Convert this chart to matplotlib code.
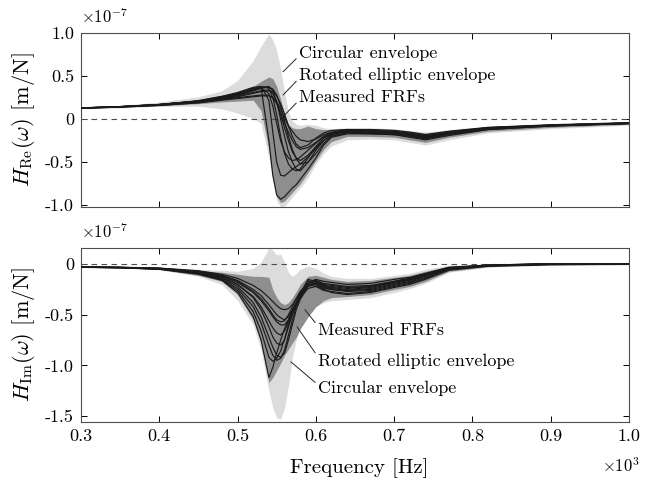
import matplotlib
matplotlib.use('Agg')
import matplotlib.pyplot as plt

plt.rcParams['font.family'] = 'cmr10'
plt.rcParams['mathtext.fontset'] = 'cm'
plt.rcParams['axes.unicode_minus'] = False
plt.rcParams['axes.formatter.use_mathtext'] = True

# frequency grid (x 10^3 Hz)
freq = [0.30, 0.35, 0.40, 0.45, 0.48, 0.50, 0.52, 0.53, 0.54, 0.545, 0.55, 0.555, 0.56, 0.565,
        0.57, 0.575, 0.58, 0.59, 0.60, 0.61, 0.62, 0.64, 0.67, 0.70, 0.72, 0.74, 0.77, 0.82, 0.90, 1.00]

# ---- real part (x 1e-7 m/N) ----
re_circ_hi = [0.14, 0.16, 0.20, 0.26, 0.33, 0.45, 0.68, 0.85, 0.99, 0.92, 0.80, 0.58, 0.32, 0.08,
              -0.02, -0.06, -0.07, -0.06, -0.07, -0.10, -0.11, -0.10, -0.10, -0.11, -0.13, -0.15, -0.12, -0.08, -0.05, -0.03]
re_circ_lo = [0.12, 0.13, 0.15, 0.15, 0.12, 0.07, 0.01, -0.05, -0.45, -0.72, -0.95, -1.02, -1.01, -0.96,
              -0.90, -0.85, -0.80, -0.68, -0.52, -0.40, -0.31, -0.24, -0.23, -0.24, -0.27, -0.30, -0.24, -0.16, -0.11, -0.07]
re_ell_hi = [0.135, 0.15, 0.18, 0.23, 0.28, 0.31, 0.38, 0.44, 0.49, 0.47, 0.38, 0.23, 0.06, -0.06,
             -0.10, -0.11, -0.11, -0.08, -0.11, -0.12, -0.12, -0.11, -0.11, -0.12, -0.14, -0.16, -0.13, -0.085, -0.055, -0.035]
re_ell_lo = [0.125, 0.14, 0.155, 0.18, 0.20, 0.21, 0.22, 0.10, -0.35, -0.68, -0.90, -0.97, -0.95, -0.90,
             -0.85, -0.80, -0.75, -0.62, -0.48, -0.35, -0.26, -0.20, -0.20, -0.21, -0.24, -0.27, -0.21, -0.14, -0.095, -0.06]
re_frf_1 = [0.13, 0.145, 0.17, 0.21, 0.26, 0.30, 0.36, 0.37, -0.25, -0.65, -0.88, -0.93, -0.90, -0.85,
            -0.80, -0.76, -0.70, -0.58, -0.45, -0.30, -0.21, -0.17, -0.17, -0.18, -0.20, -0.23, -0.18, -0.12, -0.08, -0.05]
re_frf_2 = [0.13, 0.145, 0.17, 0.21, 0.26, 0.30, 0.35, 0.38, 0.36, 0.25, 0.05, -0.20, -0.40, -0.52,
            -0.58, -0.60, -0.58, -0.45, -0.32, -0.22, -0.17, -0.15, -0.16, -0.17, -0.19, -0.22, -0.17, -0.11, -0.07, -0.045]
re_frf_3 = [0.132, 0.147, 0.172, 0.21, 0.25, 0.29, 0.34, 0.37, 0.38, 0.33, 0.20, 0.00, -0.20, -0.38,
            -0.50, -0.58, -0.60, -0.50, -0.36, -0.25, -0.18, -0.14, -0.15, -0.16, -0.18, -0.21, -0.16, -0.11, -0.075, -0.05]
re_frf_4 = [0.128, 0.143, 0.165, 0.20, 0.24, 0.27, 0.31, 0.33, 0.34, 0.30, 0.20, 0.05, -0.10, -0.25,
            -0.38, -0.45, -0.48, -0.42, -0.32, -0.22, -0.17, -0.13, -0.13, -0.14, -0.16, -0.19, -0.15, -0.10, -0.07, -0.045]
re_frf_5 = [0.127, 0.14, 0.16, 0.19, 0.23, 0.25, 0.27, 0.28, 0.28, 0.25, 0.18, 0.08, -0.05, -0.15,
            -0.25, -0.32, -0.35, -0.33, -0.27, -0.20, -0.16, -0.13, -0.14, -0.15, -0.17, -0.20, -0.16, -0.10, -0.07, -0.045]
re_frf_6 = [0.127, 0.14, 0.16, 0.19, 0.22, 0.24, 0.26, 0.27, 0.27, 0.25, 0.20, 0.12, 0.02, -0.08,
            -0.14, -0.20, -0.24, -0.26, -0.23, -0.18, -0.15, -0.12, -0.12, -0.13, -0.15, -0.18, -0.14, -0.095, -0.065, -0.04]
re_frf_7 = [0.13, 0.145, 0.17, 0.21, 0.25, 0.28, 0.33, 0.36, 0.37, 0.35, 0.28, 0.15, -0.02, -0.20,
            -0.35, -0.46, -0.52, -0.50, -0.40, -0.28, -0.20, -0.16, -0.17, -0.18, -0.21, -0.24, -0.19, -0.12, -0.08, -0.05]
re_frf_8 = [0.13, 0.145, 0.168, 0.205, 0.24, 0.28, 0.33, 0.36, 0.30, 0.15, -0.05, -0.25, -0.38, -0.45,
            -0.48, -0.47, -0.44, -0.36, -0.28, -0.20, -0.16, -0.14, -0.15, -0.16, -0.18, -0.21, -0.17, -0.11, -0.075, -0.05]
re_frf_9 = [0.129, 0.144, 0.166, 0.20, 0.235, 0.26, 0.30, 0.32, 0.33, 0.32, 0.27, 0.18, 0.06, -0.08,
            -0.20, -0.29, -0.33, -0.30, -0.22, -0.16, -0.13, -0.12, -0.13, -0.15, -0.17, -0.20, -0.15, -0.10, -0.07, -0.045]
re_frf_10 = [0.131, 0.146, 0.17, 0.215, 0.265, 0.31, 0.37, 0.38, 0.22, -0.15, -0.50, -0.65, -0.66, -0.62,
             -0.58, -0.55, -0.52, -0.44, -0.34, -0.25, -0.19, -0.16, -0.16, -0.17, -0.19, -0.22, -0.17, -0.11, -0.075, -0.05]

# ---- imaginary part (x 1e-7 m/N) ----
im_circ_hi = [-0.02, -0.025, -0.03, -0.05, -0.06, -0.07, -0.04, 0.02, 0.16, 0.14, 0.09, 0.10, 0.02, -0.08,
              -0.12, -0.09, -0.05, -0.02, -0.04, -0.09, -0.12, -0.14, -0.14, -0.11, -0.09, -0.05, -0.01, 0.0, 0.012, 0.004]
im_circ_lo = [-0.035, -0.04, -0.056, -0.12, -0.20, -0.36, -0.60, -0.85, -1.25, -1.42, -1.52, -1.53, -1.42, -1.20,
              -0.92, -0.75, -0.63, -0.50, -0.42, -0.38, -0.36, -0.35, -0.33, -0.28, -0.24, -0.19, -0.08, -0.03, -0.01, -0.005]
im_ell_hi = [-0.025, -0.028, -0.035, -0.06, -0.08, -0.10, -0.12, -0.12, -0.13, -0.25, -0.33, -0.38, -0.40, -0.38,
             -0.33, -0.27, -0.20, -0.12, -0.11, -0.13, -0.15, -0.17, -0.16, -0.13, -0.11, -0.07, -0.02, -0.005, 0.008, 0.002]
im_ell_lo = [-0.032, -0.037, -0.052, -0.11, -0.17, -0.30, -0.55, -0.78, -1.17, -1.12, -1.05, -0.98, -0.90, -0.84,
             -0.78, -0.72, -0.64, -0.52, -0.42, -0.36, -0.33, -0.32, -0.30, -0.25, -0.22, -0.17, -0.07, -0.025, -0.008, -0.003]
im_frf_1 = [-0.03, -0.035, -0.05, -0.10, -0.16, -0.28, -0.52, -0.75, -1.12, -1.02, -0.88, -0.75, -0.64, -0.55,
            -0.46, -0.38, -0.30, -0.16, -0.20, -0.25, -0.28, -0.30, -0.28, -0.23, -0.20, -0.15, -0.06, -0.02, -0.005, 0.0]
im_frf_2 = [-0.03, -0.035, -0.048, -0.09, -0.15, -0.24, -0.42, -0.58, -0.80, -0.90, -0.95, -0.93, -0.85, -0.70,
            -0.55, -0.42, -0.32, -0.20, -0.22, -0.26, -0.27, -0.29, -0.27, -0.22, -0.19, -0.14, -0.05, -0.018, -0.003, 0.0]
im_frf_3 = [-0.03, -0.034, -0.046, -0.085, -0.14, -0.22, -0.38, -0.52, -0.72, -0.82, -0.90, -0.92, -0.88, -0.75,
            -0.60, -0.45, -0.35, -0.22, -0.18, -0.22, -0.24, -0.26, -0.25, -0.20, -0.17, -0.12, -0.045, -0.015, 0.0, 0.0]
im_frf_4 = [-0.028, -0.033, -0.044, -0.08, -0.13, -0.20, -0.33, -0.45, -0.62, -0.72, -0.78, -0.80, -0.75, -0.62,
            -0.50, -0.40, -0.32, -0.22, -0.20, -0.23, -0.25, -0.27, -0.26, -0.21, -0.18, -0.13, -0.05, -0.015, 0.0, 0.0]
im_frf_5 = [-0.028, -0.032, -0.042, -0.075, -0.12, -0.18, -0.28, -0.36, -0.46, -0.52, -0.57, -0.60, -0.60, -0.55,
            -0.48, -0.40, -0.33, -0.24, -0.22, -0.24, -0.25, -0.26, -0.24, -0.19, -0.16, -0.11, -0.04, -0.012, 0.003, 0.0]
im_frf_6 = [-0.027, -0.031, -0.04, -0.07, -0.11, -0.16, -0.25, -0.31, -0.40, -0.45, -0.50, -0.53, -0.55, -0.52,
            -0.45, -0.38, -0.30, -0.20, -0.16, -0.19, -0.20, -0.22, -0.21, -0.17, -0.14, -0.10, -0.035, -0.01, 0.005, 0.0]
im_frf_7 = [-0.026, -0.03, -0.038, -0.065, -0.10, -0.14, -0.21, -0.26, -0.33, -0.37, -0.41, -0.44, -0.45, -0.44,
            -0.40, -0.34, -0.28, -0.18, -0.15, -0.17, -0.18, -0.20, -0.19, -0.15, -0.13, -0.09, -0.03, -0.008, 0.005, 0.0]
im_frf_8 = [-0.029, -0.033, -0.045, -0.08, -0.13, -0.20, -0.32, -0.42, -0.56, -0.63, -0.68, -0.70, -0.66, -0.57,
            -0.47, -0.38, -0.30, -0.20, -0.19, -0.22, -0.23, -0.25, -0.23, -0.18, -0.15, -0.105, -0.04, -0.012, 0.002, 0.0]
im_frf_9 = [-0.03, -0.035, -0.049, -0.095, -0.155, -0.26, -0.47, -0.66, -0.92, -0.96, -0.93, -0.86, -0.74, -0.60,
            -0.48, -0.38, -0.29, -0.15, -0.17, -0.21, -0.22, -0.24, -0.22, -0.18, -0.15, -0.11, -0.04, -0.012, 0.002, 0.0]
im_frf_10 = [-0.027, -0.031, -0.041, -0.072, -0.115, -0.17, -0.27, -0.34, -0.44, -0.50, -0.55, -0.57, -0.56, -0.50,
             -0.42, -0.34, -0.27, -0.19, -0.17, -0.20, -0.21, -0.23, -0.22, -0.17, -0.14, -0.10, -0.035, -0.01, 0.004, 0.0]

re_frfs = [re_frf_1, re_frf_2, re_frf_3, re_frf_4, re_frf_5, re_frf_6, re_frf_7, re_frf_8, re_frf_9, re_frf_10]
im_frfs = [im_frf_1, im_frf_2, im_frf_3, im_frf_4, im_frf_5, im_frf_6, im_frf_7, im_frf_8, im_frf_9, im_frf_10]

xticks = [0.3, 0.4, 0.5, 0.6, 0.7, 0.8, 0.9, 1.0]
xticklabels = ['0.3', '0.4', '0.5', '0.6', '0.7', '0.8', '0.9', '1.0']
re_yticks = [1.0, 0.5, 0.0, -0.5, -1.0]
re_yticklabels = ['1.0', '0.5', '0', '-0.5', '-1.0']
im_yticks = [0.0, -0.5, -1.0, -1.5]
im_yticklabels = ['0', '-0.5', '-1.0', '-1.5']
labels = ['Circular envelope', 'Rotated elliptic envelope', 'Measured FRFs']

LIGHT = '#dcdcdc'
DARK = '#8e8e8e'
LINE = '#1a1a1a'

fig = plt.figure(figsize=(6.59, 4.86), dpi=100)
ax1 = fig.add_axes([0.1229, 0.574, 0.8316, 0.358])
ax2 = fig.add_axes([0.1229, 0.1317, 0.8316, 0.358])


def draw(ax, chi, clo, ehi, elo, frfs):
    ax.fill_between(freq, clo, chi, color=LIGHT, lw=0, zorder=1)
    ax.fill_between(freq, elo, ehi, color=DARK, lw=0, zorder=2)
    ax.axhline(0, color='0.3', lw=0.8, ls=(0, (5, 4)), zorder=3)
    for c in frfs:
        ax.plot(freq, c, color=LINE, lw=0.85, zorder=4)
    ax.set_xlim(0.3, 1.0)
    ax.set_xticks(xticks)
    ax.tick_params(direction='in', top=True, right=True, length=4, width=0.7,
                   labelsize=13, pad=5)
    for s in ax.spines.values():
        s.set_color('0.3')
        s.set_linewidth(0.8)


draw(ax1, re_circ_hi, re_circ_lo, re_ell_hi, re_ell_lo, re_frfs)
ax1.set_ylim(-1.02, 1.0)
ax1.set_yticks(re_yticks)
ax1.set_yticklabels(re_yticklabels)
ax1.tick_params(labelbottom=False)
ax1.set_ylabel(r'$H_{\mathrm{Re}}(\omega)$ [m/N]', fontsize=16)
ax1.yaxis.set_label_coords(-0.08, 0.5)
ax1.text(0.0, 1.04, r'$\times10^{-7}$', transform=ax1.transAxes, fontsize=12,
         ha='left', va='bottom')

draw(ax2, im_circ_hi, im_circ_lo, im_ell_hi, im_ell_lo, im_frfs)
ax2.set_ylim(-1.56, 0.16)
ax2.set_yticks(im_yticks)
ax2.set_yticklabels(im_yticklabels)
ax2.set_xticklabels(xticklabels)
ax2.set_ylabel(r'$H_{\mathrm{Im}}(\omega)$ [m/N]', fontsize=16)
ax2.yaxis.set_label_coords(-0.08, 0.5)
ax2.set_xlabel('Frequency [Hz]', fontsize=15)
ax2.xaxis.set_label_coords(0.507, -0.21)
ax2.text(0.0, 1.04, r'$\times10^{-7}$', transform=ax2.transAxes, fontsize=12,
         ha='left', va='bottom')
ax2.text(0.95, -0.29, r'$\times10^{3}$', transform=ax2.transAxes, fontsize=12,
         ha='left', va='baseline')

# annotations, top panel
ann_kw = dict(fontsize=13, ha='left', va='center',
              arrowprops=dict(arrowstyle='-', lw=0.7, color='0.15', shrinkA=0, shrinkB=0,
                              relpos=(0, 0.3)))
top_txt_y = [0.77, 0.51, 0.256]
top_pt = [(0.558, 0.55), (0.558, 0.28), (0.554, -0.01)]
for lab, ty, pt in zip(labels, top_txt_y, top_pt):
    ax1.annotate(lab, xy=pt, xytext=(0.5785, ty), **ann_kw)

ann_kw2 = dict(fontsize=13, ha='left', va='center',
               arrowprops=dict(arrowstyle='-', lw=0.7, color='0.15', shrinkA=0, shrinkB=0,
                               relpos=(0, 0.75)))
bot_txt_y = [-1.23, -0.955, -0.65]
bot_pt = [(0.568, -0.965), (0.576, -0.62), (0.586, -0.45)]
for lab, ty, pt in zip(labels, bot_txt_y, bot_pt):
    ax2.annotate(lab, xy=pt, xytext=(0.6027, ty), **ann_kw2)

fig.savefig('out.png', dpi=100)
